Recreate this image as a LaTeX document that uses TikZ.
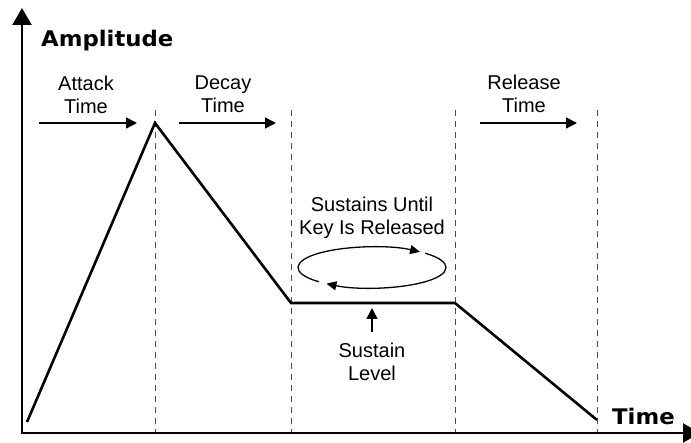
\documentclass[tikz,border=0pt]{standalone}
\usepackage{fontspec}
\setmainfont{Liberation Sans}
\newfontfamily\boldlabel[FakeStretch=1.06]{DejaVu Sans Bold}
\usetikzlibrary{arrows.meta,calc}
\tikzset{
  envelope/.style={line width=2.6pt, line join=miter},
  axisline/.style={line width=2.2pt, -{Triangle[length=17pt,width=19pt]}},
  timearrow/.style={line width=1.5pt, -{Triangle[length=11pt,width=11pt]}},
  looparrow/.style={line width=1.3pt, -{Triangle[length=10pt,width=9pt]}},
  divider/.style={line width=0.8pt, draw=black!70, dash pattern=on 6pt off 5pt},
  lbl/.style={font=\fontsize{20}{22.5}\selectfont, align=center, inner sep=0pt, anchor=north},
  bigl/.style={font=\boldlabel\fontsize{21.5}{24}\selectfont, inner sep=0pt, anchor=base west}
}
\begin{document}
\begin{tikzpicture}[x=1pt,y=1pt]
\useasboundingbox (0,0) rectangle (691,442);
% dividers
\coordinate (d1t) at (155,332); \coordinate (d1b) at (155,9);
\coordinate (d2t) at (291,332); \coordinate (d2b) at (291,9);
\coordinate (d3t) at (455,332); \coordinate (d3b) at (455,9);
\coordinate (d4t) at (597,332); \coordinate (d4b) at (597,9);
\draw[divider] (d1t) -- (d1b);
\draw[divider] (d2t) -- (d2b);
\draw[divider] (d3t) -- (d3b);
\draw[divider] (d4t) -- (d4b);
% axes
\coordinate (origin) at (22,9);
\coordinate (ytip) at (22,434);
\coordinate (xstart) at (21,9);
\coordinate (xtip) at (700,9);
\draw[axisline] (origin) -- (ytip);
\draw[axisline] (xstart) -- (xtip);
% envelope
\coordinate (e0) at (27,20);
\coordinate (e1) at (155,319);
\coordinate (e2) at (291,139);
\coordinate (e3) at (455,139);
\coordinate (e4) at (597,22);
\draw[envelope] (e0) -- (e1) -- (e2) -- (e3) -- (e4);
% labels
\node[bigl] (amp) at (41,395) {Amplitude};
\node[bigl] (time) at (612,18) {Time};
\node[lbl] (attack) at (86,366) {Attack\\Time};
\node[lbl] (decay) at (223,366) {Decay\\Time};
\node[lbl] (release) at (524,367) {Release\\Time};
\node[lbl] (until) at (372,245) {Sustains Until\\Key Is Released};
\node[lbl] (level) at (372,99) {Sustain\\Level};
% time arrows
\coordinate (a1) at (39,319); \coordinate (a2) at (137,319);
\coordinate (b1) at (179,319); \coordinate (b2) at (276,319);
\coordinate (r1) at (480,319); \coordinate (r2) at (577,319);
\draw[timearrow] (a1) -- (a2);
\draw[timearrow] (b1) -- (b2);
\draw[timearrow] (r1) -- (r2);
% sustain level arrow
\coordinate (s1) at (372,110); \coordinate (s2) at (372,134);
\draw[timearrow] (s1) -- (s2);
% loop
\coordinate (lc) at (372,174.5);
\draw[looparrow] ($(lc)+(44:74pt and 20.5pt)$) arc[start angle=44, end angle=-128, x radius=74pt, y radius=20.5pt];
\draw[looparrow] ($(lc)+(224:74pt and 20.5pt)$) arc[start angle=224, end angle=49.5, x radius=74pt, y radius=20.5pt];
\end{tikzpicture}
\end{document}
